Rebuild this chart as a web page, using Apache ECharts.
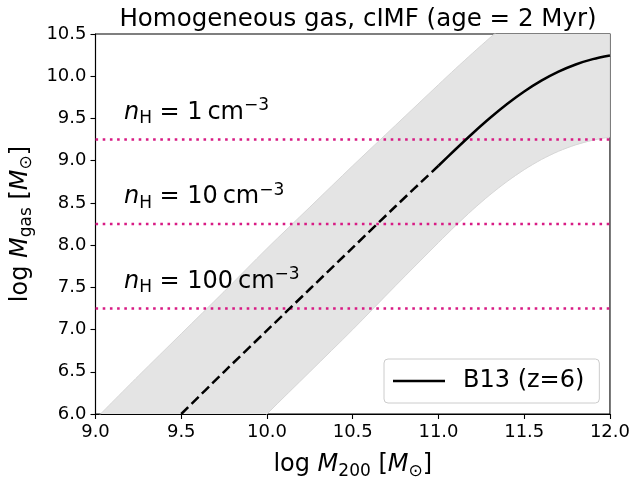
<!DOCTYPE html>
<html>
<head>
<meta charset="utf-8">
<script src="https://cdn.jsdelivr.net/npm/echarts@6/dist/echarts.min.js"></script>
<style>
html,body{margin:0;padding:0;background:#fff;}
#chart{width:633px;height:485px;}
</style>
</head>
<body>
<div id="chart"></div>
<script>
// ---- data ----
const xVals     = [9.0, 9.25, 9.5, 9.75, 10.0, 10.25, 10.5, 10.75, 11.0, 11.1, 11.2, 11.3, 11.4, 11.5, 11.6, 11.7, 11.8, 11.9, 12.0];
const b13Vals   = [null, null, 6.0, 6.5, 6.99, 7.48, 7.97, 8.46, 8.94, 9.135, 9.325, 9.505, 9.671, 9.819, 9.947, 10.054, 10.139, 10.202, 10.245];
const upperVals = [5.94, 6.45, 6.95, 7.45, 7.96, 8.45, 8.94, 9.42, 9.9, 10.09, 10.275, 10.455, 10.625, 10.78, 10.92, 11.04, 11.13, 11.19, 11.23];
const lowerVals = [3.96, 4.46, 4.97, 5.48, 6.0, 6.5, 7.0, 7.52, 8.03, 8.23, 8.42, 8.595, 8.753, 8.893, 9.013, 9.111, 9.187, 9.242, 9.28];
const solidFromX = 11.0;               // B13 drawn dashed below this mass, solid above
const densityLevels = [9.25, 8.25, 7.25];
const densityLabels = ['1', '10', '100'];
const xTicks = [9.0, 9.5, 10.0, 10.5, 11.0, 11.5, 12.0];
const yTicks = [6.0, 6.5, 7.0, 7.5, 8.0, 8.5, 9.0, 9.5, 10.0, 10.5];
const titleText = 'Homogeneous gas, cIMF (age = 2 Myr)';
const legendName = 'B13 (z=6)';

// ---- build series data ----
const FONT = 'DejaVu Sans';
const dashedData = [], solidData = [];
xVals.forEach((x, i) => {
  const y = b13Vals[i];
  if (y === null) return;
  if (x <= solidFromX) dashedData.push([x, y]);
  if (x >= solidFromX) solidData.push([x, y]);
});
const lowerData = xVals.map((x, i) => [x, lowerVals[i]]);
const upperData = xVals.map((x, i) => [x, upperVals[i]]);

const PINK = '#d81b84';
const richMath = {
  t: {fontFamily: FONT, fontSize: 24, lineHeight: 30, color: '#000'},
  i: {fontFamily: FONT, fontSize: 24, lineHeight: 30, fontStyle: 'italic', color: '#000'},
  s: {fontFamily: FONT, fontSize: 17, lineHeight: 18, verticalAlign: 'bottom', color: '#000'},
  p: {fontFamily: FONT, fontSize: 17, lineHeight: 22, verticalAlign: 'top', color: '#000'}
};

const hLineSeries = densityLevels.map((lv, k) => ({
  type: 'line', name: 'nH' + k, data: [[xTicks[0], lv], [xTicks[xTicks.length - 1], lv]],
  symbol: 'none', silent: true, z: 3,
  lineStyle: {color: PINK, width: 2.6, type: [2.6, 4.6], cap: 'butt'}
}));

const labelSeries = {
  type: 'scatter', name: 'labels', symbolSize: 0, silent: true, z: 6,
  data: densityLevels.map(lv => [9.166, lv + 0.32]),
  itemStyle: {opacity: 0},
  label: {
    show: true, position: 'right', distance: 0, color: '#000', opacity: 1,
    formatter: p => '{i|n}{s|H}{t| = ' + densityLabels[p.dataIndex] + '\u2009cm}{p|−3}',
    rich: richMath
  }
};

const bandSeries = {
  type: 'custom', name: 'band', silent: true, z: 1, clip: true,
  data: [[xVals[0], upperVals[0]]],
  renderItem: (params, api) => {
    const pts = [];
    xVals.forEach((x, i) => pts.push(api.coord([x, upperVals[i]])));
    for (let i = xVals.length - 1; i >= 0; i--) pts.push(api.coord([xVals[i], lowerVals[i]]));
    const cs = params.coordSys;
    return {
      type: 'polygon', shape: {points: pts},
      style: {fill: '#e4e4e4', stroke: null},
      clipPath: {type: 'rect', shape: {x: cs.x, y: cs.y, width: cs.width, height: cs.height}}
    };
  }
};

const option = {
  animation: false,
  backgroundColor: '#fff',
  title: {
    text: titleText, left: 353, top: 2, textAlign: 'center',
    textStyle: {fontFamily: FONT, fontSize: 24.5, fontWeight: 'normal', color: '#000'}
  },
  grid: {left: 95.5, right: 22.5, top: 34, bottom: 70, show: true, borderColor: '#000', borderWidth: 1.1, backgroundColor: 'transparent'},
  legend: {
    data: [{name: legendName, icon: 'rect'}], left: 384, top: 359,
    padding: [10, 15, 10, 9], itemWidth: 52, itemHeight: 2.5,
    itemStyle: {color: '#000'},
    backgroundColor: 'rgba(255,255,255,0.85)', borderColor: '#cccccc', borderWidth: 1, borderRadius: 4,
    formatter: n => '{a|' + n + '}',
    textStyle: {fontFamily: FONT, fontSize: 24, color: '#000',
      rich: {a: {fontFamily: FONT, fontSize: 24, color: '#000', padding: [0, 0, 0, 13]}}},
    selectedMode: false
  },
  xAxis: {
    type: 'value', min: xTicks[0], max: xTicks[xTicks.length - 1], interval: 0.5,
    name: '{t|log }{i|M}{s|200}{t| [}{i|M}{s|⊙}{t|]}', nameLocation: 'middle', nameGap: 36,
    nameTextStyle: {rich: richMath},
    axisLine: {show: true, lineStyle: {color: '#000', width: 1.1}},
    axisTick: {show: true, length: 5, lineStyle: {color: '#000', width: 1.1}},
    axisLabel: {margin: 9, fontFamily: FONT, fontSize: 18, color: '#000', formatter: v => v.toFixed(1)},
    splitLine: {show: false}
  },
  yAxis: {
    type: 'value', min: yTicks[0], max: yTicks[yTicks.length - 1], interval: 0.5,
    name: '{t|log }{i|M}{s|gas}{t| [}{i|M}{s|⊙}{t|]}', nameLocation: 'middle', nameGap: 58, nameRotate: 90,
    nameTextStyle: {rich: richMath},
    axisLine: {show: true, lineStyle: {color: '#000', width: 1.1}},
    axisTick: {show: true, length: 5, lineStyle: {color: '#000', width: 1.1}},
    axisLabel: {margin: 9, fontFamily: FONT, fontSize: 18, color: '#000', formatter: v => v.toFixed(1)},
    splitLine: {show: false}
  },
  series: [
    bandSeries,
    {type: 'line', name: 'bandLow', data: lowerData, symbol: 'none', smooth: 0.3, silent: true, z: 2,
     lineStyle: {color: '#d6d6d6', width: 1}},
    {type: 'line', name: 'bandHigh', data: upperData, symbol: 'none', smooth: 0.3, silent: true, z: 2,
     lineStyle: {color: '#d6d6d6', width: 1}},
    ...hLineSeries,
    {type: 'line', name: 'B13 dashed', data: dashedData, symbol: 'none', smooth: 0.3, silent: true, z: 5,
     lineStyle: {color: '#000', width: 2.5, type: [10, 4.5]}},
    {type: 'line', name: legendName, data: solidData, symbol: 'none', smooth: 0.3, silent: true, z: 5,
     lineStyle: {color: '#000', width: 2.5}, itemStyle: {color: '#000'}},
    labelSeries
  ]
};
echarts.init(document.getElementById('chart'), null, {renderer: 'canvas'}).setOption(option);
</script>
</body>
</html>
